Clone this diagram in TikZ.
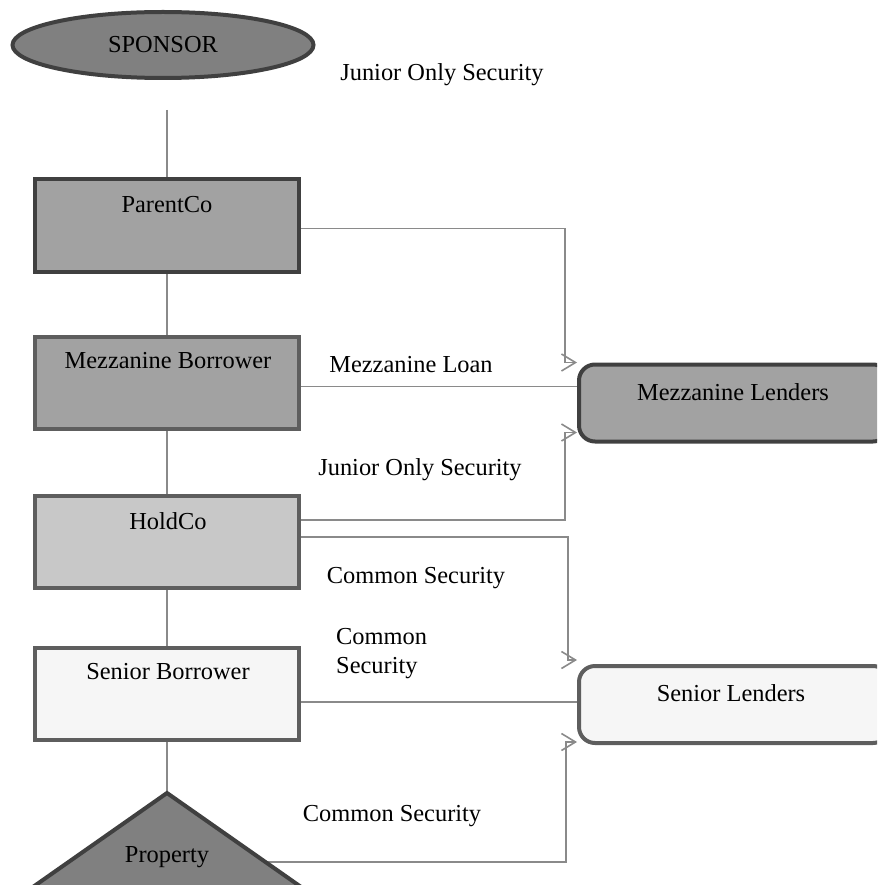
\documentclass[tikz,border=0pt]{standalone}
\usepackage{fontspec}
\setmainfont{Liberation Serif}
\usepackage{tikz}
\usetikzlibrary{arrows.meta,positioning,calc,shapes.geometric,backgrounds}

\definecolor{darkedge}{HTML}{404040}
\definecolor{midedge}{HTML}{5E5E5E}
\definecolor{linegray}{HTML}{8A8A8A}
\definecolor{sponsorfill}{HTML}{808080}
\definecolor{mezzfill}{HTML}{A2A2A2}
\definecolor{holdfill}{HTML}{C8C8C8}
\definecolor{seniorfill}{HTML}{F6F6F6}

\begin{document}
\begin{tikzpicture}[x=1pt,y=-1pt,
  every node/.style={font=\fontsize{24.4}{29}\selectfont},
  box/.style={draw, rectangle, line width=4pt, minimum width=264pt, minimum height=92pt},
  lender/.style={draw, rectangle, rounded corners=16pt, line width=4pt, minimum width=310pt, minimum height=77pt},
  stem/.style={draw=linegray, line width=1.3pt},
  link/.style={draw=linegray, line width=1.6pt},
  flow/.style={link, -{Straight Barb[length=14pt,width=17pt]}}]
\useasboundingbox (0,0) rectangle (877,885);
\clip (0,0) rectangle (877,885);

% left column
\node[ellipse, draw=darkedge, fill=sponsorfill, line width=4pt, minimum width=301pt, minimum height=66pt] (sponsor) at (163,45) {SPONSOR};
\node[box, draw=darkedge, fill=mezzfill] (parent) at (167,225.5) {};
\node (parenttxt) at (167,205) {ParentCo};
\node[box, draw=midedge, fill=mezzfill] (mezzbor) at (167,382.5) {};
\node (mezzbortxt) at (168,361) {Mezzanine Borrower};
\node[box, draw=midedge, fill=holdfill] (hold) at (167,542) {};
\node (holdtxt) at (168,521) {HoldCo};
\node[box, draw=midedge, fill=seniorfill] (senbor) at (167,694) {};
\node (senbortxt) at (168,672) {Senior Borrower};
\draw[darkedge, fill=sponsorfill, line width=4pt] (167,793) -- (-57,950) -- (391,950) -- cycle;
\node (prop) at (167,857) {Property};

% lenders
\node[lender, draw=darkedge, fill=mezzfill] (mezzlend) at (734,403) {};
\node (mezzlendtxt) at (733,392) {Mezzanine Lenders};
\node[lender, draw=midedge, fill=seniorfill] (senlend) at (734,704.5) {};
\node (senlendtxt) at (731,693) {Senior Lenders};

% labels
\node (toplbl) at (442,75) {Junior Only Security};
\node (loanlbl) at (411,365) {Mezzanine Loan};
\node (jrlbl) at (420,470) {Junior Only Security};
\node (comlbl) at (416,578) {Common Security};
\node[anchor=west, align=left, inner sep=0pt] (com2lbl) at (336,654) {Common\\Security};
\node (com3lbl) at (392,816) {Common Security};

\begin{pgfonlayer}{background}
\draw[stem, shorten <=30pt] (parent.north |- sponsor.south) -- (parent.north);
\draw[stem] (parent) -- (mezzbor);
\draw[stem] (mezzbor) -- (hold);
\draw[stem] (hold) -- (senbor);
\draw[stem] (senbor) -- (prop);

\draw[flow] ([yshift=-3pt]parent.east) -| ([xshift=-12pt]mezzlend.north west) -- (mezzlend.north west);
\draw[link] ([yshift=-4pt]mezzbor.east) -- ([yshift=-4pt]mezzbor.east -| mezzlend.west);
\draw[flow] ([yshift=22pt]hold.east) -| ([xshift=-12pt,yshift=11pt]mezzlend.south west) -- ([yshift=11pt]mezzlend.south west);
\draw[flow] ([yshift=5pt]hold.east) -| ([xshift=-9pt,yshift=4pt]senlend.north west) -- ([yshift=4pt]senlend.north west);
\draw[link] ([yshift=-8pt]senbor.east) -- ([yshift=-8pt]senbor.east -| senlend.west);
\draw[flow] ([yshift=-5pt]prop.east) -| ([xshift=-11pt,yshift=3pt]senlend.south west) -- ([yshift=3pt]senlend.south west);
\end{pgfonlayer}
\end{tikzpicture}
\end{document}
